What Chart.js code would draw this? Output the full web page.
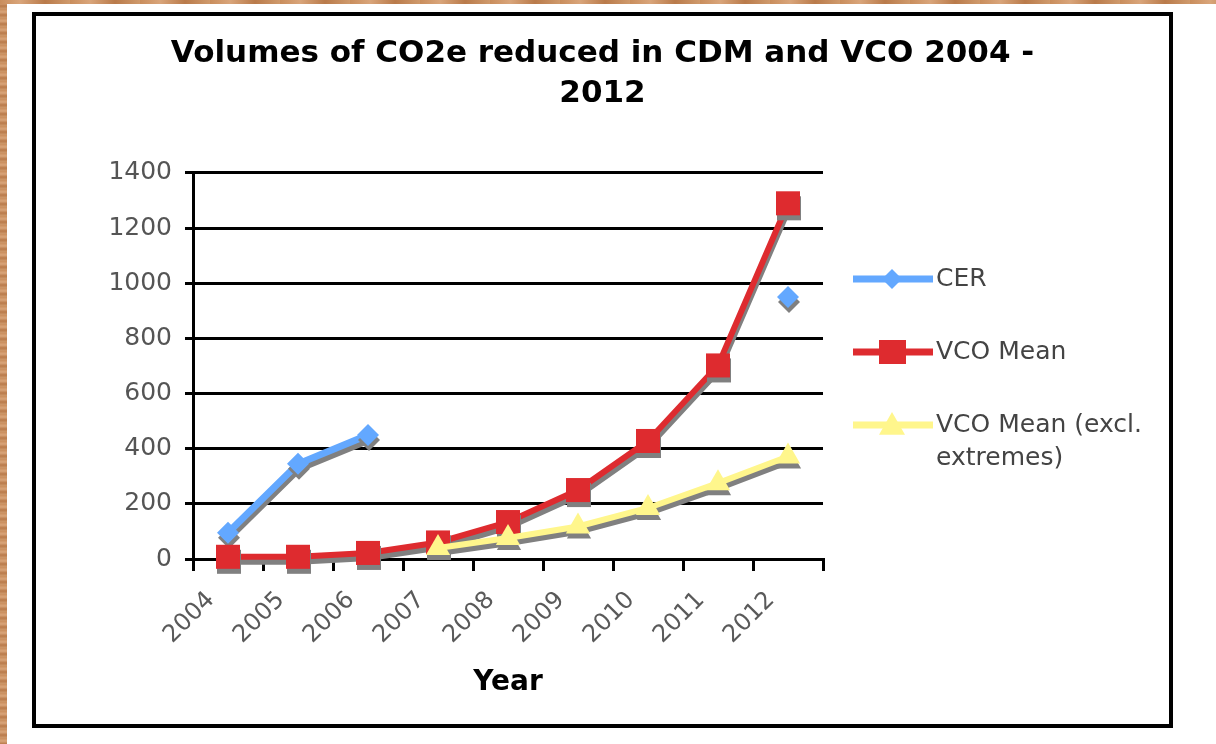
<!DOCTYPE html>
<html lang="en">
<head>
  <meta charset="UTF-8">
  <title>Volumes of CO2e reduced in CDM and VCO 2004 - 2012</title>
  <script src="https://cdn.jsdelivr.net/npm/chart.js"></script>
  <style>
    html, body {
      margin: 0;
      padding: 0;
      width: 1216px;
      height: 744px;
      overflow: hidden;
      background: #fff;
      font-family: 'DejaVu Sans', sans-serif;
    }
    /* wooden edge on the left and top */
    .wood-left {
      position: absolute; left: 0; top: 0; width: 7px; height: 744px;
      background: repeating-linear-gradient(180deg, #c98d5c 0px, #d9a57a 3px, #b97a4a 6px, #cf9a6c 9px);
    }
    .wood-top {
      position: absolute; left: 0; top: 0; width: 1216px; height: 4px;
      background: repeating-linear-gradient(90deg, #c98d5c 0px, #d9a57a 20px, #b97a4a 45px, #cf9a6c 70px);
    }
    .frame {
      position: absolute;
      left: 32px;
      top: 12px;
      width: 1141px;
      height: 716px;
      box-sizing: border-box;
      border: 4px solid #000;
      background: #fff;
    }
    .chart-box {
      position: relative;
      width: 1133px;
      height: 708px;
    }
  </style>
</head>
<body>
  <div class="wood-left"></div>
  <div class="wood-top"></div>
  <div class="frame">
    <div class="chart-box">
      <canvas id="co2Chart" width="1133" height="708"></canvas>
    </div>
  </div>

  <script>
    // data
    const years = ['2004', '2005', '2006', '2007', '2008', '2009', '2010', '2011', '2012'];
    const cerValues = [95, 345, 450, null, null, null, null, null, 950];
    const vcoMean = [8, 8, 22, 60, 134, 250, 428, 702, 1290];
    const vcoMeanExcl = [null, null, null, 40, 76, 118, 185, 275, 372];
    const yTicks = [0, 200, 400, 600, 800, 1000, 1200, 1400];

    const seriesNames = ['CER', 'VCO Mean', ['VCO Mean (excl.', 'extremes)']];
    const colors = ['#63a8ff', '#de2b2f', '#fff68c'];

    const FONT = "'DejaVu Sans', sans-serif";

    // grey drop shadow like the old Excel chart
    const shadowPlugin = {
      id: 'shadow',
      beforeDatasetsDraw(chart) {
        const ctx = chart.ctx;
        ctx.save();
        ctx.shadowColor = '#808080';
        ctx.shadowOffsetX = 1;
        ctx.shadowOffsetY = 5;
        ctx.shadowBlur = 0;
      },
      afterDatasetsDraw(chart) {
        chart.ctx.restore();
      }
    };

    function drawMarker(ctx, style, x, y, color) {
      ctx.fillStyle = color;
      ctx.beginPath();
      if (style === 'rectRot') {
        const r = 10;
        ctx.moveTo(x, y - r); ctx.lineTo(x + r, y); ctx.lineTo(x, y + r); ctx.lineTo(x - r, y);
      } else if (style === 'rect') {
        ctx.rect(x - 13, y - 12, 27, 24);
      } else {
        const r = 13;
        ctx.moveTo(x, y - r); ctx.lineTo(x + r, y + r * 0.75); ctx.lineTo(x - r, y + r * 0.75);
      }
      ctx.closePath();
      ctx.fill();
    }

    // legend drawn at the right side, one row per series
    const sideLegend = {
      id: 'sideLegend',
      afterDraw(chart) {
        const ctx = chart.ctx;
        const rowsY = [263, 336, 409];
        const x0 = 817, x1 = 897, xm = 856, tx = 900;
        ctx.save();
        chart.data.datasets.forEach((ds, i) => {
          const y = rowsY[i];
          ctx.strokeStyle = ds.borderColor;
          ctx.lineWidth = 7;
          ctx.beginPath();
          ctx.moveTo(x0, y);
          ctx.lineTo(x1, y);
          ctx.stroke();
          drawMarker(ctx, ds.pointStyle, xm, y, ds.borderColor);
          ctx.fillStyle = '#444';
          ctx.font = '25px ' + FONT;
          ctx.textBaseline = 'middle';
          ctx.textAlign = 'left';
          const lines = [].concat(seriesNames[i]);
          lines.forEach((t, k) => ctx.fillText(t, tx, y + k * 33));
        });
        ctx.restore();
      }
    };

    new Chart(document.getElementById('co2Chart'), {
      type: 'line',
      data: {
        labels: years,
        datasets: [
          {
            label: 'CER',
            data: cerValues,
            borderColor: colors[0],
            backgroundColor: colors[0],
            borderWidth: 7,
            pointStyle: 'rectRot',
            pointRadius: 11,
            pointBorderWidth: 0,
            clip: false,
            order: 3
          },
          {
            label: 'VCO Mean',
            data: vcoMean,
            borderColor: colors[1],
            backgroundColor: colors[1],
            borderWidth: 6,
            pointStyle: 'rect',
            pointRadius: 17,
            pointBorderWidth: 0,
            clip: false,
            order: 2
          },
          {
            label: 'VCO Mean (excl. extremes)',
            data: vcoMeanExcl,
            borderColor: colors[2],
            backgroundColor: colors[2],
            borderWidth: 6,
            pointStyle: 'triangle',
            pointRadius: 14,
            pointBorderWidth: 0,
            clip: false,
            order: 1
          }
        ]
      },
      options: {
        responsive: false,
        animation: false,
        devicePixelRatio: 1,
        layout: { padding: 0 },
        plugins: {
          legend: { display: false },
          tooltip: { enabled: false },
          title: {
            display: true,
            text: ['Volumes of CO2e reduced in CDM and VCO 2004 -', '2012'],
            color: '#000',
            font: { family: FONT, size: 31, weight: 'bold', lineHeight: 1.29 },
            padding: { top: 18, bottom: 59 }
          }
        },
        scales: {
          x: {
            type: 'category',
            offset: true,
            grid: {
              offset: true,
              drawOnChartArea: false,
              drawTicks: true,
              tickLength: 12,
              color: '#000',
              lineWidth: 3
            },
            border: { display: true, color: '#000', width: 3 },
            ticks: {
              color: '#5a5a5a',
              font: { family: FONT, size: 24 },
              minRotation: 45,
              maxRotation: 45,
              padding: 15,
              labelOffset: -17,
              autoSkip: false
            },
            title: {
              display: true,
              text: 'Year',
              color: '#000',
              font: { family: FONT, size: 28, weight: 'bold' },
              padding: 24
            },
            afterFit(scale) { scale.height = 165; }
          },
          y: {
            min: 0,
            max: 1400,
            afterBuildTicks(scale) { scale.ticks = yTicks.map(v => ({ value: v })); },
            grid: {
              color: '#000',
              lineWidth: 3,
              drawTicks: true,
              tickLength: 8
            },
            border: { display: true, color: '#000', width: 3 },
            ticks: {
              color: '#555',
              font: { family: FONT, size: 25 },
              padding: 13,
              callback: v => String(v)
            },
            afterFit(scale) { scale.width = 157; }
          },
          // empty box on the right that leaves room for the legend
          legendSpace: {
            type: 'linear',
            position: 'right',
            grid: { display: false },
            border: { display: false },
            ticks: { display: false },
            afterFit(scale) { scale.width = 346; }
          }
        }
      },
      plugins: [shadowPlugin, sideLegend]
    });
  </script>
</body>
</html>
